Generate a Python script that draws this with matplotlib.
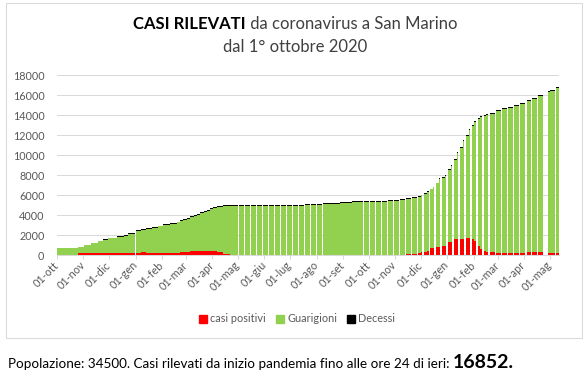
import numpy as np
import pandas as pd
import matplotlib
matplotlib.use('Agg')
import matplotlib.pyplot as plt
import matplotlib.dates as mdates
from matplotlib.patches import Patch, Rectangle

plt.rcParams['font.family'] = ['Lato', 'DejaVu Sans']

# blocchi di giorni con lo stesso valore: data di inizio e durata in giorni
inizio = ['2020-10-01', '2020-10-26', '2020-11-02', '2020-11-10', '2020-11-18', '2020-11-24',
          '2020-11-30', '2020-12-10', '2020-12-19', '2020-12-23', '2021-01-01', '2021-01-07',
          '2021-01-13', '2021-01-20', '2021-01-27', '2021-02-02', '2021-02-10', '2021-02-18',
          '2021-02-22', '2021-02-26', '2021-03-02', '2021-03-06', '2021-03-10', '2021-03-14',
          '2021-03-18', '2021-03-22', '2021-03-26', '2021-03-29', '2021-04-02', '2021-04-06',
          '2021-04-14', '2021-04-22',
          '2021-05-02', '2021-05-09', '2021-05-16', '2021-05-23', '2021-05-30', '2021-06-06',
          '2021-06-13', '2021-06-20', '2021-06-27', '2021-07-04', '2021-07-11', '2021-07-18',
          '2021-07-25', '2021-08-01', '2021-08-08', '2021-08-15', '2021-08-22', '2021-08-29',
          '2021-09-05', '2021-09-12', '2021-09-19', '2021-09-26', '2021-10-03', '2021-10-10',
          '2021-10-17', '2021-10-24', '2021-10-31', '2021-11-07', '2021-11-14', '2021-11-21',
          '2021-11-28', '2021-12-01', '2021-12-05', '2021-12-08', '2021-12-12', '2021-12-15',
          '2021-12-19', '2021-12-22', '2021-12-26', '2021-12-29', '2022-01-02', '2022-01-05',
          '2022-01-09', '2022-01-12', '2022-01-16', '2022-01-19', '2022-01-23', '2022-01-26',
          '2022-01-30', '2022-02-02', '2022-02-06', '2022-02-09', '2022-02-13', '2022-02-16',
          '2022-02-20', '2022-02-27', '2022-03-06', '2022-03-13', '2022-03-20', '2022-03-27',
          '2022-04-05', '2022-04-10', '2022-04-17', '2022-04-29', '2022-05-02', '2022-05-08']
giorni = [25, 7, 8, 8, 6, 6, 10, 9, 4, 8, 6, 6,
          7, 7, 6, 8, 8, 4, 4, 4, 4, 4, 4, 4,
          4, 4, 3, 4, 4, 8, 8, 9,
          6, 6, 6, 6, 6, 6, 6, 6, 6, 6, 6, 6,
          6, 6, 6, 6, 6, 6, 6, 6, 6, 6, 6, 6,
          6, 6, 6, 6, 6, 6,
          3, 2, 3, 3, 3, 2, 3, 2, 3, 2, 3, 2,
          3, 2, 3, 2, 3, 2, 3, 2, 3, 2, 3, 2,
          6, 6, 6, 6, 6, 6, 4, 6, 6, 2, 5, 4]

positivi = [0, 230, 240, 240, 240, 240, 240, 240, 240, 240, 240, 300,
            170, 170, 200, 230, 230, 250, 330, 330, 330, 380, 430, 430,
            430, 430, 430, 430, 400, 350, 150, 0,
            0, 0, 0, 0, 0, 0, 0, 0, 0, 0, 0, 0,
            0, 0, 0, 0, 0, 0, 0, 0, 0, 0, 0, 0,
            0, 0, 0, 0, 100, 150,
            230, 270, 330, 430, 670, 670, 800, 800, 930, 930, 1270, 1270,
            1600, 1600, 1600, 1650, 1730, 1730, 1600, 1400, 930, 600, 450, 270,
            270, 170, 170, 170, 200, 200, 300, 300, 300, 200, 200, 200]
guarigioni = [688, 578, 768, 945, 1115, 1280, 1440, 1575, 1705, 1875, 2200, 2240,
              2440, 2540, 2670, 2772, 2872, 3012, 3072, 3202, 3320, 3410, 3490, 3620,
              3760, 3890, 4020, 4160, 4282, 4462, 4732, 4880,
              4890, 4890, 4890, 4890, 4890, 4890, 4890, 4890, 4890, 4890, 4890, 4980,
              5010, 5010, 5080, 5080, 5080, 5209, 5209, 5309, 5309, 5309, 5309, 5309,
              5309, 5379, 5379, 5479, 5479, 5529,
              5575, 5685, 5775, 5875, 5885, 6085, 6355, 6805, 6775, 6975, 7280, 7630,
              7900, 8600, 9100, 9750, 10170, 10770, 11295, 11895, 12665, 13195, 13495, 13775,
              13855, 14220, 14390, 14550, 14690, 14890, 15087, 15317, 15587, 16087, 16187, 16487]
decessi = [42, 42, 42, 45, 45, 50, 50, 55, 55, 55, 60, 60,
           60, 60, 60, 68, 68, 68, 68, 68, 80, 80, 80, 80,
           80, 80, 80, 80, 88, 88, 88, 90,
           90, 90, 90, 90, 90, 90, 90, 90, 90, 90, 90, 90,
           90, 90, 90, 90, 90, 91, 91, 91, 91, 91, 91, 91,
           91, 91, 91, 91, 91, 91,
           95, 95, 95, 95, 95, 95, 95, 95, 95, 95, 100, 100,
           100, 100, 100, 100, 100, 100, 105, 105, 105, 105, 105, 105,
           105, 110, 110, 110, 110, 110, 113, 113, 113, 113, 113, 113]

mesi = ['ott', 'nov', 'dic', 'gen', 'feb', 'mar', 'apr', 'mag', 'giu', 'lug',
        'ago', 'set', 'ott', 'nov', 'dic', 'gen', 'feb', 'mar', 'apr', 'mag']
popolazione = 34500
totale_casi = 16852

W, H = 588, 376
fig = plt.figure(figsize=(W / 100, H / 100), dpi=100)

# cornice del grafico
fig.patches.append(Rectangle((6 / W, 1 - 338 / H), 576 / W, 335 / H, transform=fig.transFigure,
                             fill=False, edgecolor='#d9d9d9', linewidth=0.75))

ax = fig.add_axes([57 / W, 1 - 255 / H, 502 / W, 180 / H])

x = mdates.date2num(np.array(inizio, dtype='datetime64[D]'))
pos = np.array(positivi)
gua = np.array(guarigioni)
dec = np.array(decessi)

stile = dict(align='edge', linewidth=0, antialiased=False)
ax.bar(x, pos, width=giorni, color='#ff0000', label='casi positivi', **stile)
ax.bar(x, gua, width=giorni, bottom=pos, color='#92d050', label='Guarigioni', **stile)
ax.bar(x, dec, width=giorni, bottom=pos + gua, color='#000000', label='Decessi', **stile)

ax.set_xlim(mdates.date2num(np.datetime64('2020-10-01')), mdates.date2num(np.datetime64('2022-05-12')))
ax.set_ylim(0, 18000)
ax.set_yticks(range(0, 18001, 2000))
ax.grid(axis='y', color='#d9d9d9', linewidth=0.75)
ax.set_axisbelow(True)

ticks = pd.date_range('2020-10-01', '2022-05-01', freq='MS')
ax.set_xticks(mdates.date2num(ticks.to_numpy()))
ax.set_xticklabels(['01-' + m for m in mesi], rotation=45, ha='right', va='center',
                   rotation_mode='anchor')

for s in ['top', 'right', 'left']:
    ax.spines[s].set_visible(False)
ax.spines['bottom'].set_color('#d9d9d9')
ax.spines['bottom'].set_linewidth(0.75)
ax.tick_params(axis='x', colors='#d9d9d9', labelcolor='#595959', labelsize=7.8, length=3,
               width=0.75, pad=3)
ax.tick_params(axis='y', length=0, labelcolor='#595959', labelsize=7.8, pad=9)

handles = [Patch(color='#ff0000'), Patch(color='#92d050'), Patch(color='#000000')]
fig.legend(handles, ['casi positivi', 'Guarigioni', 'Decessi'], loc='center',
           bbox_to_anchor=(297 / W, 1 - 319 / H), ncol=3, frameon=False, fontsize=7.8,
           labelcolor='#595959', handlelength=0.75, handleheight=0.75, handletextpad=0.3,
           columnspacing=0.9)


def riga(parti, y, cx=None, x0=None):
    testi = [fig.text(0, 1 - y / H, s, fontsize=fs, fontweight=w, color=c, va='baseline')
             for s, w, fs, c in parti]
    fig.canvas.draw()
    r = fig.canvas.get_renderer()
    larg = [t.get_window_extent(r).width for t in testi]
    start = cx - sum(larg) / 2 if cx is not None else x0
    for t, l in zip(testi, larg):
        t.set_x(start / W)
        start += l


riga([('CASI RILEVATI', 'bold', 12.0, '#000000'),
      (' da coronavirus a San Marino', 'normal', 12.0, '#404040')], 29, cx=295)
riga([('dal 1° ottobre 2020', 'normal', 12.0, '#404040')], 52, cx=295)
riga([('Popolazione: %d. Casi rilevati da inizio pandemia fino alle ore 24 di ieri: ' % popolazione,
       'normal', 9.7, '#000000'),
      ('%d.' % totale_casi, 'bold', 14, '#000000')], 368, x0=8)

fig.savefig('out.png', dpi=100)
